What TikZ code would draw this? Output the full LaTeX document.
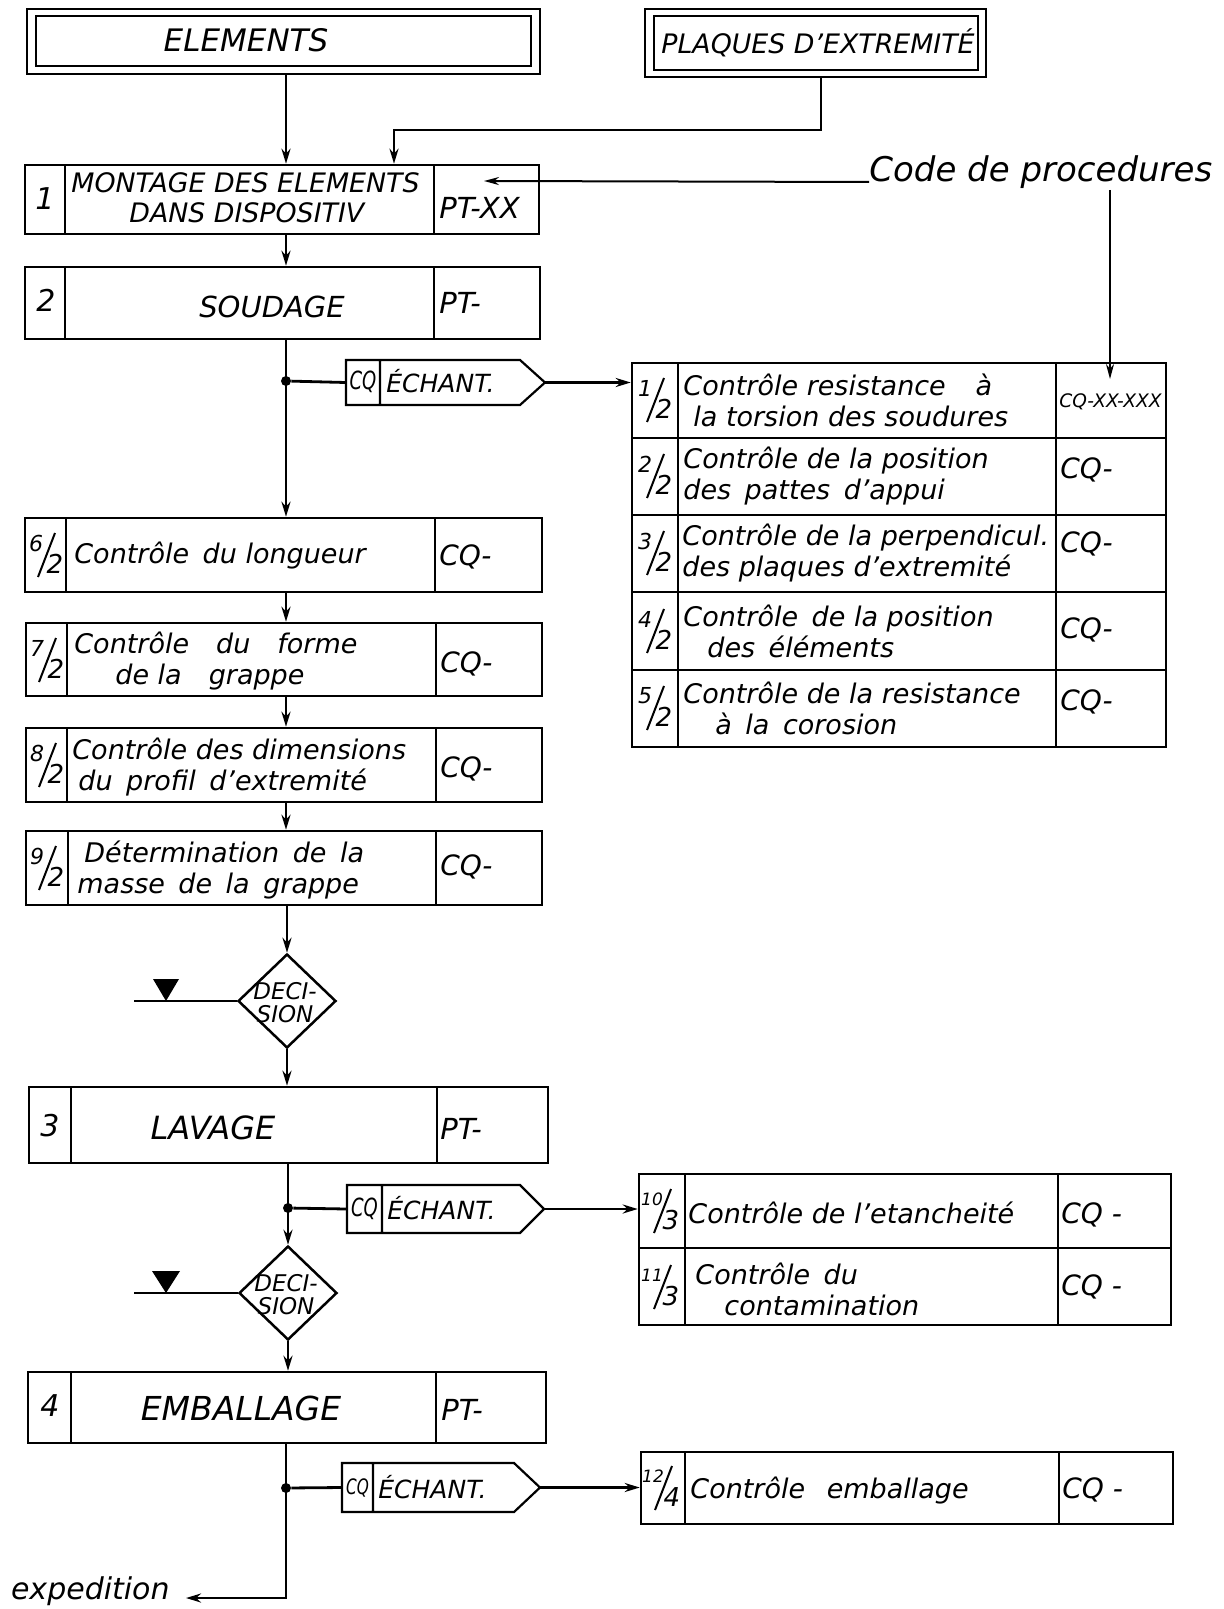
\documentclass[tikz,border=0pt]{standalone}
\usepackage{fontspec}
\usepackage{graphicx}
\setmainfont{DejaVu Sans}
\usetikzlibrary{arrows.meta,shapes.geometric,fit}
\newcommand{\fsl}[2]{\fontsize{#1}{#2}\selectfont\itshape}
\newcommand{\tagcq}{\scalebox{0.72}[1]{\fsl{12.5}{12.5}CQ}}
\tikzset{
  boxst/.style={draw, line width=1.25pt, inner sep=0pt},
  divline/.style={line width=1.25pt},
  conn/.style={line width=1.4pt},
  arr/.style={conn, -{Stealth[length=7.5pt,width=4.5pt]}},
  arrthin/.style={line width=0.9pt, -{Stealth[length=7.5pt,width=4pt]}},
  txt/.style={inner sep=0pt, anchor=west, align=left, font=\fsl{13.5}{15.5}},
  big/.style={inner sep=0pt, font=\fsl{15.5}{15.5}},
  num/.style={inner sep=0pt, font=\fsl{15}{15}},
  code/.style={inner sep=0pt, anchor=west, font=\fsl{14}{14}},
  dot/.style={circle, fill, inner sep=0pt, minimum size=5pt},
  dec/.style={diamond, draw, line width=1.25pt, inner sep=0pt, minimum width=49pt, minimum height=47pt},
  tagline/.style={line width=1.1pt},
  slash/.style={line width=1pt},
}
% box with two dividers: name, xl, d1, d2, xr, yt, yb
\newcommand{\cbox}[7]{%
  \node[boxst, fit={(#2,#6) (#5,#7)}] (#1) {};
  \draw[divline] (#3,#6) -- (#3,#7) (#4,#6) -- (#4,#7);}
% stacked fraction: [numerator size] name, cx, cy, numerator, denominator
\newcommand{\fracn}[6][11]{%
  \node[inner sep=0pt, font=\fsl{#1}{#1}] (#2n) at (#3-10,#4-12) {#5};
  \node[inner sep=0pt, font=\fsl{13}{13}] (#2d) at (#3+9,#4+9) {#6};
  \draw[slash] (#3-8,#4+22) -- (#3+9,#4-22);}
\begin{document}
\begin{tikzpicture}[x=0.5pt, y=-0.5pt]
\useasboundingbox (0,0) rectangle (1223,1609);
\fill[white] (0,0) rectangle (1223,1609);

% ---- sources
\node[draw, line width=1pt, inner sep=0pt, fit={(27,9) (540,74)}] (elem) {};
\draw[line width=1pt] (36,16) rectangle (531,66);
\node[big] (elemt) at (246,40) {ELEMENTS};
\node[draw, line width=1pt, inner sep=0pt, fit={(645,9) (986,77)}] (plq) {};
\draw[line width=1pt] (654,16) rectangle (978,70);
\node[inner sep=0pt, font=\fsl{13.4}{13.4}] (plqt) at (818,43) {PLAQUES D’EXTREMITÉ};

\coordinate (mx) at (286,0);
\coordinate (pk) at (821,130);
\coordinate (pk2) at (394,130);

% ---- step 1
\cbox{s1}{25}{65}{434}{539}{165}{234}
\node[num] (s1n) at (45,199) {1};
\node[txt, font=\fsl{13.4}{15}] (s1t) at (71,198) {MONTAGE DES ELEMENTS\\\hspace*{29pt}DANS DISPOSITIV};
\node[code, font=\fsl{14.5}{14.5}] (s1c) at (439,208) {PT-XX};

% ---- step 2
\cbox{s2}{25}{65}{434}{540}{267}{339}
\node[num] (s2n) at (46,300) {2};
\node[inner sep=0pt, font=\fsl{14.5}{14.5}] (s2t) at (272,307) {SOUDAGE};
\node[code, font=\fsl{14.5}{14.5}] (s2c) at (439,303) {PT-};

% ---- control boxes left
\cbox{c6}{25}{66}{435}{542}{518}{592}
\fracn{c6f}{46}{555}{6}{2}
\node[txt] (c6t) at (74,556) {Contrôle\enspace du longueur};
\node[code] (c6c) at (439,557) {CQ-};

\cbox{c7}{26}{67}{436}{542}{623}{696}
\fracn{c7f}{47}{660}{7}{2}
\node[txt] (c7t) at (74,661) {Contrôle\quad du\quad forme\\\hspace*{20.5pt}de la\quad grappe};
\node[code] (c7c) at (440,664) {CQ-};

\cbox{c8}{26}{67}{436}{542}{728}{802}
\fracn{c8f}{47}{765}{8}{2}
\node[txt] (c8t) at (72,767) {Contrôle des dimensions\\\hspace*{3pt}du\enspace profil\enspace d’extremité};
\node[code] (c8c) at (440,769) {CQ-};

\cbox{c9}{26}{68}{436}{542}{831}{905}
\fracn{c9f}{47}{868}{9}{2}
\node[txt] (c9t) at (77,870) {\hspace*{3.5pt}Détermination\enspace de\enspace la\\masse\enspace de\enspace la\enspace grappe};
\node[code] (c9c) at (440,867) {CQ-};

% ---- decision 1
\node[dec] (dec1) at (287,1001) {};
\node[inner sep=0pt, align=center, font=\fsl{11.5}{11.5}] (dec1t) at (285,1003) {DECI-\\SION};
\coordinate (in1) at (134,1001);
\draw[conn] (in1) -- (dec1.west);
\fill (153,979) -- (179,979) -- (166,1001) -- cycle;

% ---- step 3
\cbox{s3}{29}{71}{437}{548}{1087}{1163}
\node[num] (s3n) at (50,1126) {3};
\node[inner sep=0pt, font=\fsl{16}{16}] (s3t) at (213,1128) {LAVAGE};
\node[code, font=\fsl{14.5}{14.5}] (s3c) at (440,1129) {PT-};

% ---- decision 2
\node[dec] (dec2) at (288,1293) {};
\node[inner sep=0pt, align=center, font=\fsl{11.5}{11.5}] (dec2t) at (286,1295) {DECI-\\SION};
\coordinate (in2) at (134,1293);
\draw[conn] (in2) -- (dec2.west);
\fill (152,1271) -- (180,1271) -- (166,1293) -- cycle;

% ---- step 4
\cbox{s4}{28}{71}{436}{546}{1372}{1443}
\node[num] (s4n) at (50,1406) {4};
\node[inner sep=0pt, font=\fsl{16.5}{16.5}] (s4t) at (241,1408) {EMBALLAGE};
\node[code, font=\fsl{14.5}{14.5}] (s4c) at (441,1410) {PT-};

% ---- tags
\node[inner sep=0pt, fit={(346,360) (545,405)}] (tag1) {};
\draw[tagline] (346,360) -- (520,360) -- (545,382.5) -- (520,405) -- (346,405) -- cycle (380,360) -- (380,405);
\node[inner sep=0pt] (tag1q) at (363,382) {\tagcq};
\node[code, font=\fsl{12.5}{12.5}] (tag1t) at (386,381) {ÉCHANT.};

\node[inner sep=0pt, fit={(347,1185) (544,1233)}] (tag2) {};
\draw[tagline] (347,1185) -- (520,1185) -- (544,1209) -- (520,1233) -- (347,1233) -- cycle (382,1185) -- (382,1233);
\node[inner sep=0pt] (tag2q) at (364.5,1209) {\tagcq};
\node[code, font=\fsl{12.5}{12.5}] (tag2t) at (387,1208) {ÉCHANT.};

\node[inner sep=0pt, fit={(342,1463) (540,1512)}] (tag3) {};
\draw[tagline] (342,1463) -- (514,1463) -- (540,1487.5) -- (514,1512) -- (342,1512) -- cycle (373,1463) -- (373,1512);
\node[inner sep=0pt] (tag3q) at (357.5,1488) {\scalebox{0.85}{\tagcq}};
\node[code, font=\fsl{12.5}{12.5}] (tag3t) at (378,1487) {ÉCHANT.};

% ---- right table 1
\node[boxst, fit={(632,363) (1166,747)}] (r1) {};
\draw[divline] (678,363) -- (678,747) (1056,363) -- (1056,747);
\draw[divline] (632,438) -- (1166,438) (632,515) -- (1166,515) (632,592) -- (1166,592) (632,670) -- (1166,670);
\fracn{r1f1}{655}{400}{1}{2}
\fracn{r1f2}{655}{476}{2}{2}
\fracn{r1f3}{655}{553}{3}{2}
\fracn{r1f4}{655}{631}{4}{2}
\fracn{r1f5}{655}{708}{5}{2}
\node[txt] (r1t1) at (683,400) {Contrôle resistance\hspace{1.1em}à\\\hspace*{5pt}la torsion des soudures};
\node[txt] (r1t2) at (683,476) {Contrôle de la position\\des\enspace pattes\enspace d’appui};
\node[txt] (r1t3) at (682,553) {Contrôle de la perpendicul.\\des plaques d’extremité};
\node[txt] (r1t4) at (683,631) {Contrôle\enspace de la position\\\hspace*{12pt}des\enspace éléments};
\node[txt] (r1t5) at (683,708) {Contrôle de la resistance\\\hspace*{16pt}à\enspace la\enspace corosion};
\node[code, font=\fsl{9.3}{9.3}] (r1c1) at (1059,402) {CQ-XX-XXX};
\node[code] (r1c2) at (1060,470) {CQ-};
\node[code] (r1c3) at (1060,544) {CQ-};
\node[code] (r1c4) at (1060,630) {CQ-};
\node[code] (r1c5) at (1060,702) {CQ-};

% ---- right table 2
\node[boxst, fit={(639,1174) (1171,1325)}] (r2) {};
\draw[divline] (685,1174) -- (685,1325) (1058,1174) -- (1058,1325) (639,1248) -- (1171,1248);
\fracn[8.5]{r2f1}{662}{1211}{10}{3}
\fracn[8.5]{r2f2}{662}{1287}{11}{3}
\node[txt] (r2t1) at (688,1213) {Contrôle de l’etancheité};
\node[txt] (r2t2) at (695,1289) {Contrôle\enspace du\\\hspace*{14.5pt}contamination};
\node[code] (r2c1) at (1061,1215) {CQ -};
\node[code] (r2c2) at (1061,1287) {CQ -};

% ---- right table 3
\node[boxst, fit={(641,1452) (1173,1524)}] (r3) {};
\draw[divline] (685,1452) -- (685,1524) (1059,1452) -- (1059,1524);
\fracn[8.5]{r3f}{663}{1488}{12}{4}
\node[txt] (r3t) at (690,1490) {Contrôle\hspace{0.8em}emballage};
\node[code] (r3c) at (1062,1490) {CQ -};

% ---- code de procedures
\node[inner sep=0pt, anchor=base west, font=\fsl{17}{17}] (code) at (869,182) {Code de procedures};
\coordinate (ptx) at (484,181);
\coordinate (cx) at (1110,190);
\coordinate (cqtip) at (1110,379);
\draw[line width=1pt, -{Stealth[length=7.5pt,width=4pt]}] (code.base west) -- (ptx);
\draw[arrthin] (cx) -- (cqtip);

% ---- expedition
\node[inner sep=0pt, anchor=east, font=\fsl{15}{15}] (exp) at (170,1591) {expedition};
\coordinate (exptip) at (186,1598);

% ---- junction dots
\node[dot] (j1) at (286,381) {};
\node[dot] (j2) at (288,1208) {};
\node[dot] (j3) at (286,1488) {};

% ---- connectors
\draw[arr] (elem.south -| mx) -- (s1.north -| mx);
\draw[arr] (plq.south -| pk) -- (pk) -- (pk2) -- (s1.north -| pk2);
\draw[arr] (s1.south -| mx) -- (s2.north -| mx);
\draw[arr] (s2.south -| mx) -- (c6.north -| mx);
\draw[conn] (j1) -- (tag1.west);
\draw[arr] (tag1.east) -- (r1.west |- tag1.east);
\draw[arr] (c6.south -| mx) -- (c7.north -| mx);
\draw[arr] (c7.south -| mx) -- (c8.north -| mx);
\draw[arr] (c8.south -| mx) -- (c9.north -| mx);
\draw[arr] (c9.south -| dec1.north) -- (dec1.north);
\draw[arr] (dec1.south) -- (s3.north -| dec1.south);
\draw[arr] (s3.south -| j2) -- (dec2.north);
\draw[conn] (j2) -- (tag2.west);
\draw[arr] (tag2.east) -- (r2.west |- tag2.east);
\draw[arr] (dec2.south) -- (s4.north -| dec2.south);
\draw[arr] (s4.south -| mx) -- (mx |- exptip) -- (exptip);
\draw[conn] (j3) -- (tag3.west);
\draw[arr] (tag3.east) -- (r3.west |- tag3.east);
\end{tikzpicture}
\end{document}
